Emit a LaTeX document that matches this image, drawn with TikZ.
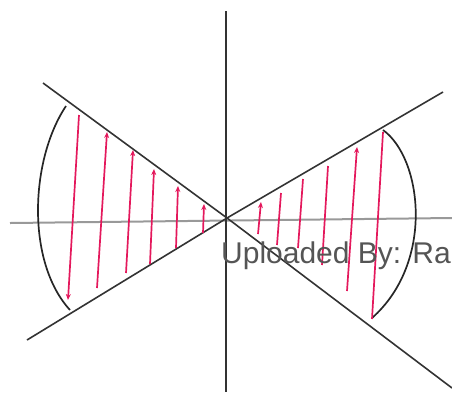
\documentclass[tikz,border=0pt]{standalone}
\usepackage{fontspec}
\newfontfamily\stampfont{Liberation Sans}
\usetikzlibrary{arrows.meta}
\definecolor{pencil}{HTML}{333333}
\definecolor{axisgray}{HTML}{999999}
\definecolor{hatch}{HTML}{E4185C}
\definecolor{stamp}{HTML}{555555}

\begin{document}
\begin{tikzpicture}[
    x=1pt, y=-1pt,
    axis/.style={line width=2pt, color=axisgray},
    yaxis/.style={line width=1.6pt, color=pencil},
    ray/.style={line width=1.6pt, color=pencil},
    rim/.style={line width=1.7pt, color=black!85},
    hatchline/.style={line width=1.7pt, color=hatch},
    hatcharrow/.style={hatchline, -{Stealth[length=6pt,width=5pt]}}
]
\clip (0,0) rectangle (452,392);
\useasboundingbox (0,0) rectangle (452,392);

% AXES
\coordinate (xl) at (10,223);
\coordinate (xr) at (452,218);
\coordinate (yt) at (226,11);
\coordinate (yb) at (226,392);
\draw[axis] (xl) -- (xr);
\draw[yaxis] (yt) -- (yb);

% RAYS
\coordinate (O) at (227,218);
\coordinate (ul) at (43,83);
\coordinate (lr) at (452,388);
\coordinate (ll) at (27,340);
\coordinate (ur) at (443,92);
\draw[ray] (ul) -- (O) -- (lr);
\draw[ray] (ll) -- (O) -- (ur);

% ARCS
\coordinate (lt) at (66,106);
\coordinate (lb) at (70,310);
\coordinate (rt) at (383,130);
\coordinate (rb) at (372,318);
\draw[rim] (lt) .. controls (30,160) and (26,262) .. (lb);
\draw[rim] (rt) .. controls (422,158) and (435,262) .. (rb);

% HATCHING
\draw[hatcharrow] (79,115) -- (68,300);
\foreach \xa/\ya/\xb/\yb in {97/288/107/132, 126/273/133/150, 150/264/154/169,
    176/248/178/186, 203/233/204/204, 258/234/261/202, 347/291/357/147}
    \draw[hatcharrow] (\xa,\ya) -- (\xb,\yb);
\foreach \xa/\ya/\xb/\yb in {277/245/281/193, 298/248/303/179, 322/265/328/166,
    372/319/383/132}
    \draw[hatchline] (\xa,\ya) -- (\xb,\yb);

\node[anchor=base west, inner sep=0pt, text=stamp,
      font=\stampfont\fontsize{30}{30}\selectfont] (upl) at (221,263) {Uploaded By: Ra};

\end{tikzpicture}
\end{document}
